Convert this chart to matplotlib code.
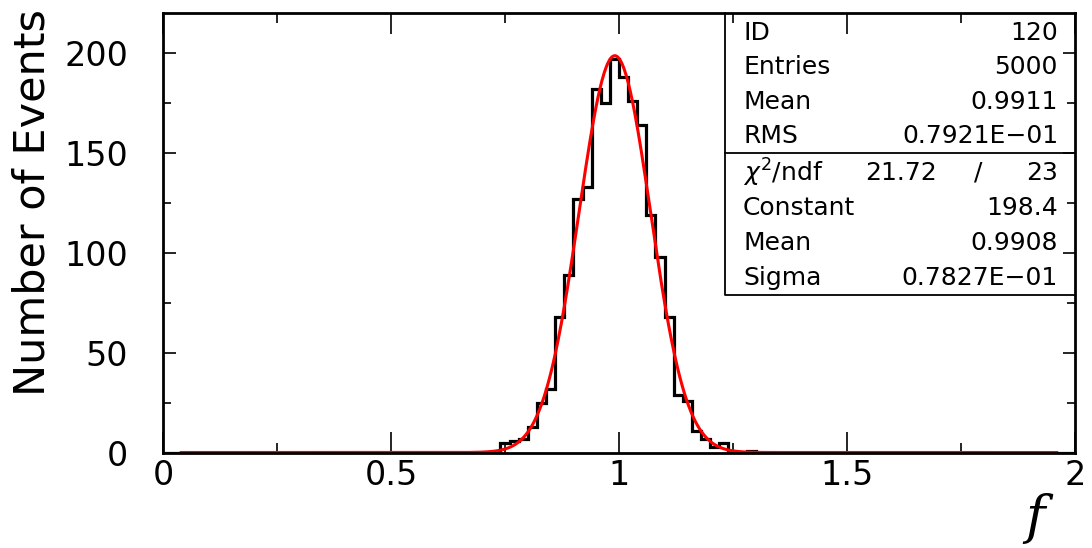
import matplotlib
matplotlib.use("Agg")
import matplotlib.pyplot as plt
import numpy as np
from matplotlib.ticker import MultipleLocator

# histogram: 100 bins on [0, 2]; non-empty bins start at 0.74
n_bins = 100
x_min, x_max = 0.0, 2.0
first_bin = 37
counts_nonzero = [5, 6, 7, 13, 25, 32, 68, 89, 127, 133,
                  182, 175, 197, 188, 176, 164, 119, 98, 68, 29,
                  26, 11, 7, 3, 5, 0, 0, 1]

# gaussian fit parameters
fit_const = 198.4
fit_mean = 0.9908
fit_sigma = 0.07827

stat_labels = ["ID", "Entries", "Mean", "RMS"]
stat_values = ["120", "5000", "0.9911", "0.7921E\u221201"]
fit_labels = ["Constant", "Mean", "Sigma"]
fit_values = ["198.4", "0.9908", "0.7827E\u221201"]
chi2_value = "21.72"
ndf_value = "23"

counts = np.zeros(n_bins)
counts[first_bin:first_bin + len(counts_nonzero)] = counts_nonzero
edges = np.linspace(x_min, x_max, n_bins + 1)

fig = plt.figure(figsize=(10.92, 5.48), dpi=100)
ax = fig.add_axes([163 / 1092, 1 - 452.5 / 548, 912 / 1092, 439.5 / 548])

ax.stairs(counts, edges, color="black", linewidth=2.3)

xf = np.linspace(0.04, 1.96, 800)
yf = fit_const * np.exp(-0.5 * ((xf - fit_mean) / fit_sigma) ** 2)
ax.plot(xf, yf, color="red", linewidth=2.2)

ax.set_xlim(x_min, x_max)
ax.set_ylim(0, 219.75)

ax.xaxis.set_major_locator(MultipleLocator(0.5))
ax.xaxis.set_minor_locator(MultipleLocator(0.25))
ax.yaxis.set_major_locator(MultipleLocator(50))
ax.yaxis.set_minor_locator(MultipleLocator(25))
ax.xaxis.set_major_formatter(plt.FuncFormatter(lambda v, p: f"{v:g}"))

ax.tick_params(axis="both", which="both", direction="in", top=True, right=True,
               width=1.2, colors="black")
ax.tick_params(axis="x", which="major", length=15, pad=5, labelsize=24)
ax.tick_params(axis="x", which="minor", length=7.5)
ax.tick_params(axis="y", which="major", length=9, pad=25, labelsize=24)
ax.tick_params(axis="y", which="minor", length=6)
for s in ax.spines.values():
    s.set_linewidth(2.0)

fig.text(33 / 1092, 1 - 203 / 548, "Number of Events", rotation=90,
         ha="center", va="center", fontsize=31)
fig.text(1035 / 1092, 1 - 518 / 548, "f", ha="center", va="center",
         fontsize=38, family="DejaVu Serif", style="italic")

# stats box
bx0 = (725 - 163) / 912
by0 = (452.5 - 295) / 439.5
ax.plot([bx0, bx0, 1], [1, by0, by0], transform=ax.transAxes,
        color="black", linewidth=1.3, clip_on=False)
ydiv = (452.5 - 153) / 439.5
ax.plot([bx0, 1], [ydiv, ydiv], transform=ax.transAxes,
        color="black", linewidth=1.3, clip_on=False)

def px(x, y):
    return x / 1092, 1 - y / 548

fs = 18
row_y = [33, 67, 102, 136]
for lab, val, y in zip(stat_labels, stat_values, row_y):
    fig.text(*px(743, y), lab, ha="left", va="center", fontsize=fs)
    fig.text(*px(1058, y), val, ha="right", va="center", fontsize=fs)

fig.text(*px(743, 173), r"$\chi^2$/ndf", ha="left", va="center", fontsize=fs)
fig.text(*px(937, 173), chi2_value, ha="right", va="center", fontsize=fs)
fig.text(*px(978, 173), "/", ha="center", va="center", fontsize=fs)
fig.text(*px(1058, 173), ndf_value, ha="right", va="center", fontsize=fs)

row_y2 = [208, 243, 278]
for lab, val, y in zip(fit_labels, fit_values, row_y2):
    fig.text(*px(743, y), lab, ha="left", va="center", fontsize=fs)
    fig.text(*px(1058, y), val, ha="right", va="center", fontsize=fs)

fig.savefig("out.png", dpi=100)
